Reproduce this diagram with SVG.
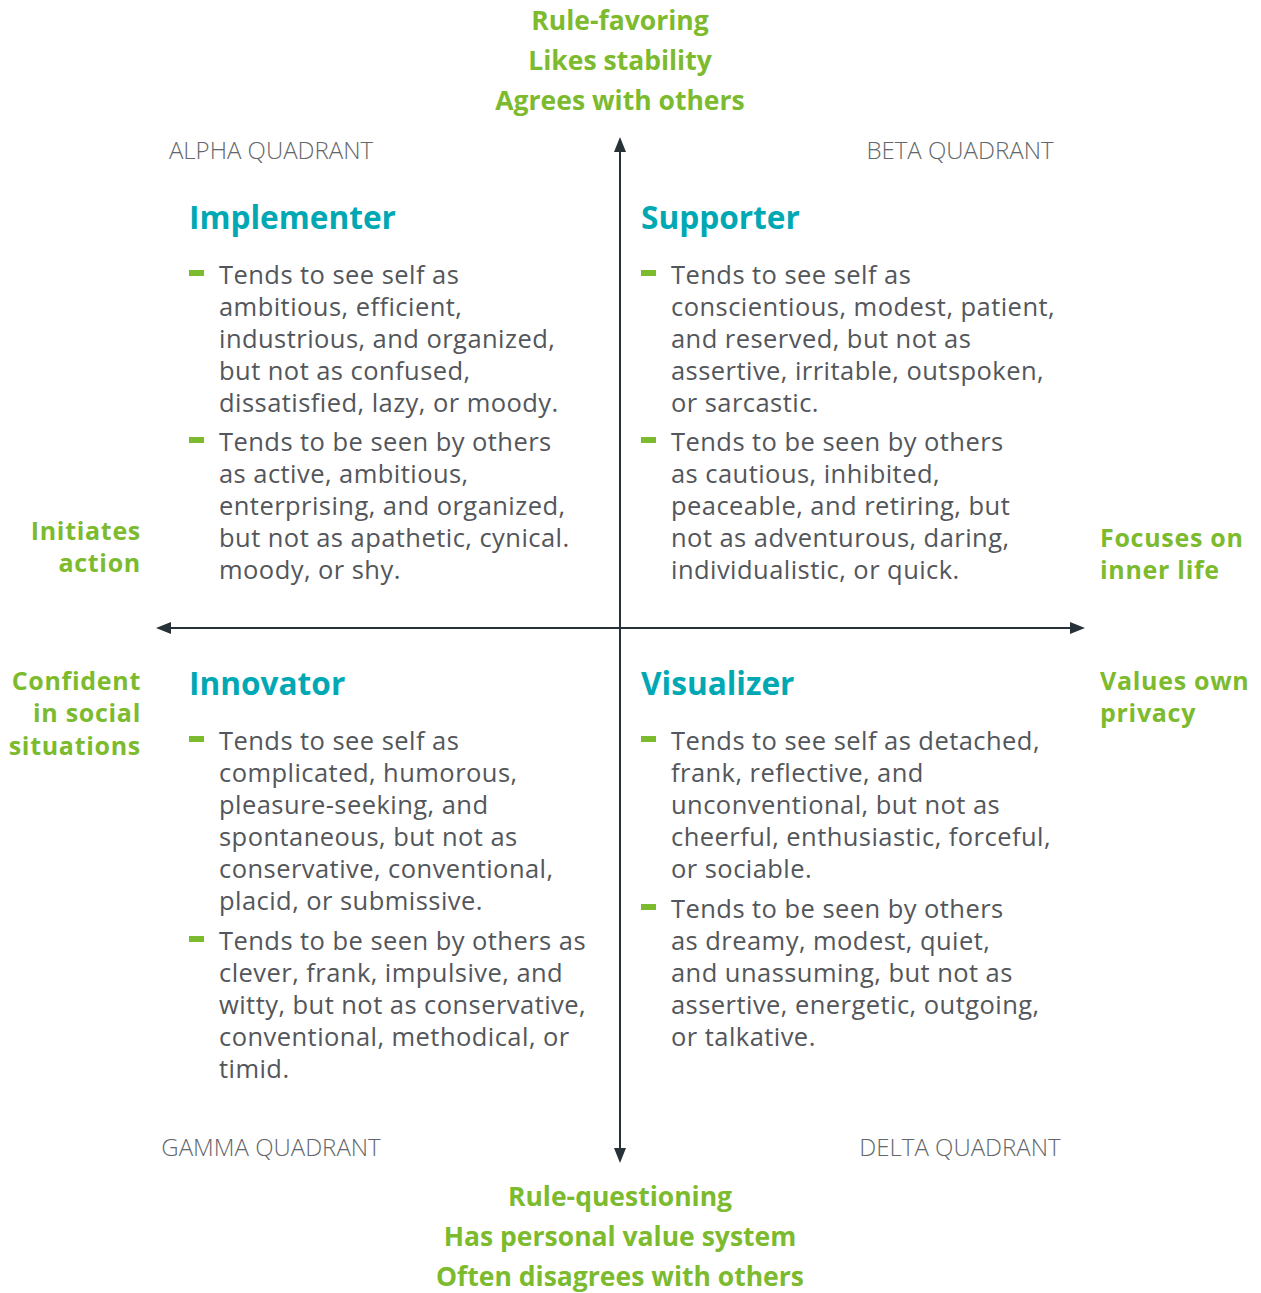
<svg xmlns="http://www.w3.org/2000/svg" width="1261" height="1293" viewBox="0 0 1261 1293">
<style>
.g{font-family:"Open Sans","Noto Sans",sans-serif;font-weight:700;font-size:26.5px;fill:#7cba2e}
.s{font-size:25px;letter-spacing:0.7px}
.q{font-family:"Open Sans","Noto Sans",sans-serif;font-weight:300;font-size:24px;fill:#63666a}
.h{font-family:"Open Sans","Noto Sans",sans-serif;font-weight:700;font-size:31.6px;fill:#00a8b4}
.b{font-family:"Open Sans","Noto Sans",sans-serif;font-weight:400;font-size:25.5px;letter-spacing:0.45px;fill:#53565a}
.bul{fill:#7cba2e}
.ax{stroke:#263238;stroke-width:2;fill:none}
.ah{fill:#263238}
</style>
<rect width="1261" height="1293" fill="#ffffff"/>
<g id="connectors">
<line class="ax" x1="620" y1="150" x2="620" y2="1150"/>
<line class="ax" x1="170" y1="628" x2="1072" y2="628"/>
<polygon class="ah" points="620,137 614,152 626,152"/>
<polygon class="ah" points="620,1163 614,1148 626,1148"/>
<polygon class="ah" points="156,628 171,622 171,634"/>
<polygon class="ah" points="1085,628 1070,622 1070,634"/>
</g>
<g id="top-labels">
<text class="g" text-anchor="middle"><tspan x="620" y="30">Rule-favoring</tspan><tspan x="620" y="70">Likes stability</tspan><tspan x="620" y="110">Agrees with others</tspan></text>
</g>
<g id="bottom-labels">
<text class="g" text-anchor="middle"><tspan x="620" y="1206">Rule-questioning</tspan><tspan x="620" y="1246">Has personal value system</tspan><tspan x="620" y="1286">Often disagrees with others</tspan></text>
</g>
<g id="left-labels">
<text class="g s" text-anchor="end"><tspan x="141" y="540">Initiates</tspan><tspan x="141" y="572">action</tspan></text>
<text class="g s" text-anchor="end"><tspan x="141" y="690">Confident</tspan><tspan x="141" y="722">in social</tspan><tspan x="141" y="755">situations</tspan></text>
</g>
<g id="right-labels">
<text class="g s"><tspan x="1100" y="547">Focuses on</tspan><tspan x="1100" y="579">inner life</tspan></text>
<text class="g s"><tspan x="1100" y="690">Values own</tspan><tspan x="1100" y="722">privacy</tspan></text>
</g>
<g id="alpha">
<text class="q" x="271" y="159" text-anchor="middle">ALPHA QUADRANT</text>
<text class="h" x="189" y="229">Implementer</text>
<rect class="bul" x="189" y="270" width="15" height="6"/>
<text class="b" x="219"><tspan x="219" y="284">Tends to see self as</tspan><tspan x="219" y="316">ambitious, efficient,</tspan><tspan x="219" y="348">industrious, and organized,</tspan><tspan x="219" y="380">but not as confused,</tspan><tspan x="219" y="412">dissatisfied, lazy, or moody.</tspan></text>
<rect class="bul" x="189" y="437" width="15" height="6"/>
<text class="b" x="219"><tspan x="219" y="451">Tends to be seen by others</tspan><tspan x="219" y="483">as active, ambitious,</tspan><tspan x="219" y="515">enterprising, and organized,</tspan><tspan x="219" y="547">but not as apathetic, cynical.</tspan><tspan x="219" y="579">moody, or shy.</tspan></text>
</g>
<g id="beta">
<text class="q" x="960" y="159" text-anchor="middle">BETA QUADRANT</text>
<text class="h" x="641" y="229">Supporter</text>
<rect class="bul" x="641" y="270" width="15" height="6"/>
<text class="b" x="671"><tspan x="671" y="284">Tends to see self as</tspan><tspan x="671" y="316">conscientious, modest, patient,</tspan><tspan x="671" y="348">and reserved, but not as</tspan><tspan x="671" y="380">assertive, irritable, outspoken,</tspan><tspan x="671" y="412">or sarcastic.</tspan></text>
<rect class="bul" x="641" y="437" width="15" height="6"/>
<text class="b" x="671"><tspan x="671" y="451">Tends to be seen by others</tspan><tspan x="671" y="483">as cautious, inhibited,</tspan><tspan x="671" y="515">peaceable, and retiring, but</tspan><tspan x="671" y="547">not as adventurous, daring,</tspan><tspan x="671" y="579">individualistic, or quick.</tspan></text>
</g>
<g id="gamma">
<text class="q" x="271" y="1156" text-anchor="middle">GAMMA QUADRANT</text>
<text class="h" x="189" y="695">Innovator</text>
<rect class="bul" x="189" y="736" width="15" height="6"/>
<text class="b" x="219"><tspan x="219" y="750">Tends to see self as</tspan><tspan x="219" y="782">complicated, humorous,</tspan><tspan x="219" y="814">pleasure-seeking, and</tspan><tspan x="219" y="846">spontaneous, but not as</tspan><tspan x="219" y="878">conservative, conventional,</tspan><tspan x="219" y="910">placid, or submissive.</tspan></text>
<rect class="bul" x="189" y="936" width="15" height="6"/>
<text class="b" x="219"><tspan x="219" y="950">Tends to be seen by others as</tspan><tspan x="219" y="982">clever, frank, impulsive, and</tspan><tspan x="219" y="1014">witty, but not as conservative,</tspan><tspan x="219" y="1046">conventional, methodical, or</tspan><tspan x="219" y="1078">timid.</tspan></text>
</g>
<g id="delta">
<text class="q" x="960" y="1156" text-anchor="middle">DELTA QUADRANT</text>
<text class="h" x="641" y="695">Visualizer</text>
<rect class="bul" x="641" y="736" width="15" height="6"/>
<text class="b" x="671"><tspan x="671" y="750">Tends to see self as detached,</tspan><tspan x="671" y="782">frank, reflective, and</tspan><tspan x="671" y="814">unconventional, but not as</tspan><tspan x="671" y="846">cheerful, enthusiastic, forceful,</tspan><tspan x="671" y="878">or sociable.</tspan></text>
<rect class="bul" x="641" y="904" width="15" height="6"/>
<text class="b" x="671"><tspan x="671" y="918">Tends to be seen by others</tspan><tspan x="671" y="950">as dreamy, modest, quiet,</tspan><tspan x="671" y="982">and unassuming, but not as</tspan><tspan x="671" y="1014">assertive, energetic, outgoing,</tspan><tspan x="671" y="1046">or talkative.</tspan></text>
</g>
</svg>
